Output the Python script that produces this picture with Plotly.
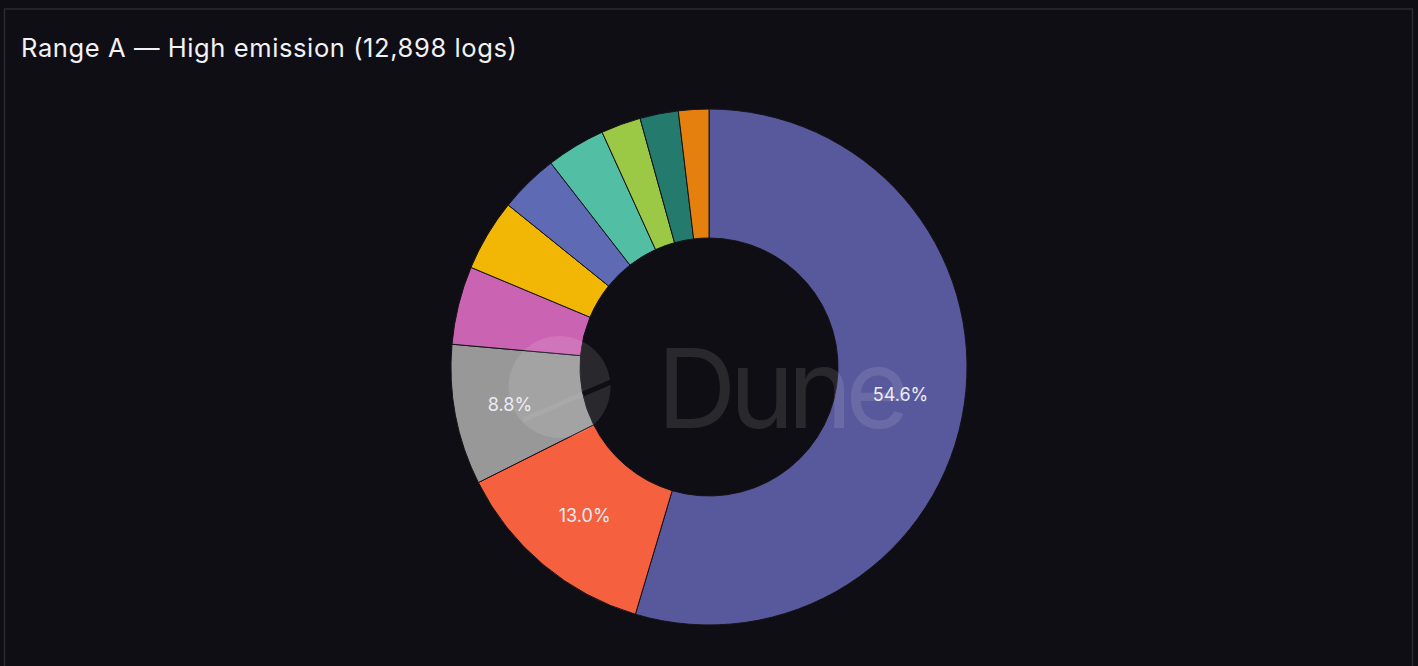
import plotly.graph_objects as go

labels = ["Category 1", "Category 2", "Category 3", "Category 4", "Category 5",
          "Category 6", "Category 7", "Category 8", "Category 9", "Category 10"]
counts = [7043, 1677, 1135, 632, 580, 477, 477, 322, 310, 245]
colors = ["#58589c", "#f5603f", "#989898", "#cb63b3", "#f2b705",
          "#5e6ab4", "#52bea3", "#9bc946", "#257a6e", "#e5800f"]
title_text = "Range A — High emission (12,898 logs)"

total = sum(counts)
templates = ["%{percent:.1%}" if c / total >= 0.05 else "" for c in counts]

W, H = 1418, 666
cx, cy, R = 709, 367, 258
BG = "#0f0e14"

fig = go.Figure(go.Pie(
    labels=labels,
    values=counts,
    hole=0.5,
    sort=False,
    direction="clockwise",
    rotation=0,
    marker=dict(colors=colors, line=dict(color="#141318", width=1)),
    texttemplate=templates,
    textposition="inside",
    insidetextorientation="horizontal",
    textfont=dict(family="Inter", size=18, color="#ecebf4"),
    showlegend=False,
    domain=dict(x=[0, 1], y=[1 - (cy + R) / H, 1 - (cy - R) / H]),
    hoverinfo="label+value+percent",
))

def px(x):
    return x / W

def py(y):
    return 1 - y / H

shapes = [
    # panel border
    dict(type="rect", xref="paper", yref="paper",
         x0=px(4.5), x1=px(1412.5), y0=py(700), y1=py(9),
         line=dict(color="#2b2b31", width=1.5), layer="below"),
    # watermark logo circle
    dict(type="circle", xref="paper", yref="paper",
         x0=px(508.5), x1=px(610.5), y0=py(438), y1=py(336),
         fillcolor="rgba(255,255,255,0.11)", line=dict(width=0), layer="above"),
    # logo chord: light over the slice, gap inside the hole
    dict(type="line", xref="paper", yref="paper",
         x0=px(523), y0=py(420), x1=px(583), y1=py(394),
         line=dict(color="rgba(255,255,255,0.07)", width=5), layer="above"),
    dict(type="line", xref="paper", yref="paper",
         x0=px(583), y0=py(394), x1=px(611), y1=py(382),
         line=dict(color=BG, width=5), layer="above"),
]

annotations = [
    dict(text='<span style="letter-spacing:0.6px">' + title_text + '</span>',
         xref="paper", yref="paper", x=px(19), y=py(47),
         xanchor="left", yanchor="middle", showarrow=False,
         font=dict(family="Inter", size=25.5, color="#f2f2f5")),
    dict(text='<span style="letter-spacing:-7px">Dune</span>',
         xref="paper", yref="paper", x=px(655), y=py(388),
         xanchor="left", yanchor="middle", showarrow=False,
         font=dict(family="Inter", size=110, color="rgba(255,255,255,0.11)")),
]

fig.update_layout(
    width=W, height=H,
    margin=dict(l=0, r=0, t=0, b=0),
    paper_bgcolor=BG,
    plot_bgcolor=BG,
    shapes=shapes,
    annotations=annotations,
)

fig.write_html("out.html",
               config={"displayModeBar": False},
               post_script="document.body.style.margin='0px';"
                           "document.body.style.background='" + BG + "';")
